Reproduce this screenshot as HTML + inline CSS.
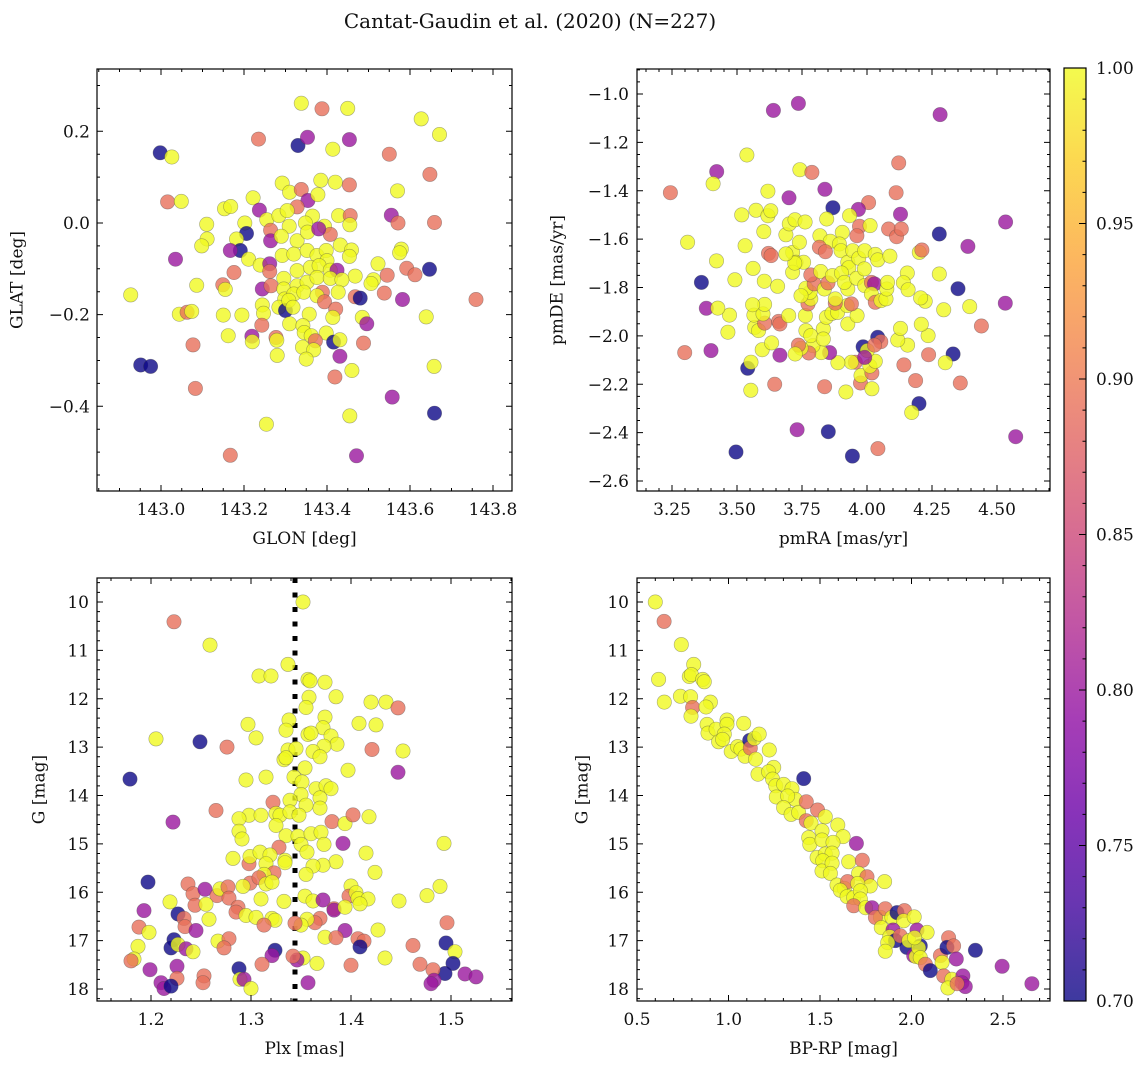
<!DOCTYPE html>
<html><head><meta charset="utf-8"><style>
html,body{margin:0;padding:0;background:#fff;}
svg{display:block;font-family:"DejaVu Serif","Liberation Serif",serif;}
</style></head><body>
<svg id="fig" width="1148" height="1068" viewBox="0 0 1148 1068" xmlns="http://www.w3.org/2000/svg">
<text x="530" y="28" text-anchor="middle" font-size="20" fill="#111">Cantat-Gaudin et al. (2020) (N=227)</text>
<defs><linearGradient id="cbgrad" x1="0" y1="1" x2="0" y2="0"></linearGradient></defs>
<g id="layer"></g>
</svg>
<script>
const probTicks = ["0.70","0.75","0.80","0.85","0.90","0.95","1.00"];
const p1Ticks = {x:["143.0","143.2","143.4","143.6","143.8"], y:["0.2","0.0","−0.2","−0.4"]};
const p2Ticks = {x:["3.25","3.50","3.75","4.00","4.25","4.50"], y:["−1.0","−1.2","−1.4","−1.6","−1.8","−2.0","−2.2","−2.4","−2.6"]};
const p3Ticks = {x:["1.2","1.3","1.4","1.5"], y:["10","11","12","13","14","15","16","17","18"]};
const p4Ticks = {x:["0.5","1.0","1.5","2.0","2.5"], y:["10","11","12","13","14","15","16","17","18"]};
const plxMedian = 1.344;
const skyStars = [
[143.338,0.261,1],[143.388,0.249,.89],[143.450,0.250,1],[143.627,0.227,1],[143.671,0.193,1],[143.235,0.183,.89],[143.330,0.169,.7],[143.353,0.187,.8],[143.454,0.182,.8],[143.414,0.161,1],
[142.998,0.153,.7],[143.026,0.144,1],[143.550,0.150,.89],[143.648,0.106,.89],[143.292,0.087,1],[143.310,0.067,1],[143.338,0.073,.89],[143.385,0.093,1],[143.420,0.089,1],[143.454,0.083,.89],
[143.570,0.070,1],[143.016,0.046,.89],[143.049,0.047,1],[143.222,0.055,1],[143.354,0.049,.8],[143.378,0.062,1],[143.153,0.031,1],[143.168,0.036,1],[143.237,0.028,.8],[143.328,0.035,.89],
[143.255,0.007,1],[143.284,0.016,1],[143.304,0.027,1],[143.365,0.015,1],[143.428,0.016,1],[143.456,0.016,.89],[143.455,-0.004,1],[143.555,0.017,.8],[143.571,0.000,.89],[143.659,0.001,.89],
[143.110,-0.003,1],[143.202,0.000,1],[143.206,-0.023,.7],[143.309,-0.007,1],[143.348,0.000,1],[143.394,-0.007,1],[143.408,-0.025,.89],[143.264,-0.016,.89],[143.111,-0.035,1],[143.098,-0.050,1],
[143.182,-0.035,1],[143.191,-0.060,.7],[143.167,-0.060,.8],[143.264,-0.039,.8],[143.290,-0.029,1],[143.328,-0.039,1],[143.353,-0.020,1],[143.380,-0.013,.8],[143.432,-0.048,1],[143.459,-0.059,1],
[143.454,-0.073,1],[143.579,-0.057,1],[143.575,-0.065,1],[143.035,-0.079,.8],[143.211,-0.079,1],[143.239,-0.092,1],[143.262,-0.089,.8],[143.292,-0.071,1],[143.320,-0.068,1],[143.352,-0.060,1],
[143.376,-0.071,1],[143.398,-0.060,1],[143.400,-0.082,1],[143.523,-0.089,1],[143.592,-0.099,.89],[143.612,-0.113,.89],[143.647,-0.101,.7],[143.176,-0.108,.89],[143.262,-0.106,.89],[143.296,-0.121,1],
[143.328,-0.104,1],[143.360,-0.097,1],[143.381,-0.093,1],[143.408,-0.103,1],[143.424,-0.103,.8],[143.468,-0.116,1],[143.545,-0.114,.89],[143.512,-0.124,1],[143.506,-0.132,1],[143.086,-0.136,1],
[143.149,-0.135,.89],[143.155,-0.145,1],[143.244,-0.144,.8],[143.265,-0.137,.89],[143.296,-0.144,1],[143.328,-0.137,1],[143.352,-0.129,1],[143.376,-0.119,1],[143.408,-0.121,1],[143.436,-0.124,1],
[142.927,-0.157,1],[143.298,-0.166,1],[143.320,-0.155,1],[143.344,-0.151,1],[143.389,-0.151,.89],[143.376,-0.159,1],[143.427,-0.151,1],[143.468,-0.161,.89],[143.480,-0.164,.7],[143.538,-0.153,.89],
[143.582,-0.167,.8],[143.759,-0.167,.89],[143.044,-0.199,1],[143.063,-0.195,.89],[143.074,-0.193,1],[143.150,-0.201,1],[143.195,-0.201,1],[143.244,-0.179,1],[143.247,-0.197,1],[143.284,-0.184,1],
[143.300,-0.191,.7],[143.308,-0.169,1],[143.318,-0.184,1],[143.357,-0.199,1],[143.394,-0.172,.89],[143.421,-0.188,.89],[143.414,-0.206,1],[143.639,-0.205,1],[143.485,-0.206,1],[143.496,-0.220,.8],
[143.243,-0.223,.89],[143.310,-0.220,1],[143.342,-0.224,1],[143.345,-0.239,1],[143.362,-0.246,1],[143.398,-0.240,1],[143.162,-0.246,1],[143.219,-0.247,.8],[143.220,-0.259,1],[143.277,-0.250,.89],
[143.279,-0.256,1],[143.372,-0.257,.89],[143.416,-0.260,.7],[143.431,-0.255,1],[143.488,-0.262,.89],[143.077,-0.266,.89],[143.341,-0.271,1],[143.368,-0.277,1],[143.280,-0.289,1],[143.350,-0.297,1],
[143.431,-0.291,.8],[142.951,-0.310,.7],[142.975,-0.313,.7],[143.460,-0.322,1],[143.658,-0.313,1],[143.419,-0.336,.89],[143.083,-0.361,.89],[143.557,-0.380,.8],[143.455,-0.421,1],[143.659,-0.415,.7],
[143.254,-0.439,1],[143.167,-0.507,.89],[143.471,-0.508,.8]
];
const pmStars = [
[3.640,-1.068,.8],[3.736,-1.039,.8],[4.281,-1.085,.8],[3.538,-1.252,1],[3.422,-1.321,.8],[3.408,-1.371,1],[3.244,-1.408,.89],[3.742,-1.313,1],[3.788,-1.324,.89],[4.122,-1.285,.89],
[3.619,-1.402,1],[3.700,-1.429,.8],[3.838,-1.394,.8],[4.112,-1.408,.89],[4.006,-1.449,.89],[3.869,-1.470,.7],[3.967,-1.477,.8],[4.129,-1.497,.8],[4.533,-1.529,.8],[4.278,-1.579,.7],
[4.388,-1.630,.8],[3.310,-1.613,1],[3.518,-1.500,1],[3.573,-1.481,1],[3.619,-1.503,1],[3.630,-1.483,1],[3.603,-1.569,1],[3.531,-1.627,1],[3.421,-1.690,1],[3.688,-1.582,1],
[3.701,-1.537,1],[3.723,-1.520,1],[3.762,-1.529,1],[3.845,-1.517,1],[3.819,-1.586,1],[3.859,-1.609,1],[3.905,-1.572,1],[3.933,-1.503,1],[3.971,-1.547,.89],[3.961,-1.586,.89],
[4.012,-1.544,1],[4.083,-1.558,.89],[4.114,-1.590,.89],[4.132,-1.558,.89],[3.621,-1.659,.89],[3.631,-1.668,.89],[3.714,-1.655,1],[3.740,-1.613,1],[3.727,-1.696,1],[3.756,-1.696,1],
[3.817,-1.634,.89],[3.840,-1.652,.89],[3.894,-1.620,1],[3.900,-1.648,1],[3.926,-1.696,1],[3.930,-1.718,1],[3.945,-1.648,1],[3.968,-1.679,1],[3.991,-1.648,1],[4.032,-1.663,1],
[4.041,-1.686,1],[4.088,-1.670,1],[4.201,-1.655,1],[4.211,-1.645,.89],[4.155,-1.740,1],[4.140,-1.780,1],[4.158,-1.809,1],[4.278,-1.744,1],[4.350,-1.805,.7],[4.532,-1.865,.8],
[4.395,-1.879,1],[4.295,-1.892,1],[4.224,-1.857,1],[4.206,-1.843,1],[4.440,-1.959,.89],[4.235,-1.999,1],[4.209,-1.952,1],[4.156,-2.038,1],[4.118,-2.017,1],[4.129,-1.969,1],
[4.331,-2.075,.7],[4.237,-2.078,.89],[4.301,-2.111,1],[4.142,-2.120,.89],[4.187,-2.185,.89],[4.359,-2.195,.89],[4.200,-2.280,.7],[4.172,-2.317,1],[4.572,-2.417,.8],[4.042,-2.466,.89],
[3.944,-2.497,.7],[3.851,-2.396,.7],[3.731,-2.388,.8],[3.496,-2.480,.7],[3.553,-2.225,1],[3.645,-2.200,.89],[3.837,-2.210,.89],[3.919,-2.232,1],[3.975,-2.195,.89],[3.977,-2.164,1],
[4.019,-2.219,1],[4.019,-2.153,.89],[4.011,-2.125,1],[4.032,-2.105,1],[3.955,-2.109,.89],[3.940,-2.109,1],[3.888,-2.111,1],[3.985,-2.045,.7],[4.001,-2.061,1],[3.991,-2.089,.8],
[4.041,-2.006,.7],[4.053,-2.024,.89],[4.029,-2.038,.89],[3.856,-2.069,.8],[3.824,-2.069,1],[3.792,-2.040,1],[3.776,-2.071,.89],[3.746,-2.051,1],[3.736,-2.038,.89],[3.724,-2.075,1],
[3.665,-2.080,.8],[3.541,-2.134,.7],[3.554,-2.109,1],[3.597,-2.057,1],[3.633,-2.029,1],[3.400,-2.061,.8],[3.299,-2.069,.89],[3.465,-1.985,1],[3.568,-1.965,1],[3.583,-1.978,1],
[3.606,-1.947,.89],[3.660,-1.940,.89],[3.665,-1.951,.89],[3.565,-1.914,1],[3.600,-1.909,1],[3.471,-1.914,1],[3.382,-1.886,.8],[3.426,-1.885,1],[3.363,-1.779,.7],[3.492,-1.768,1],
[3.562,-1.721,1],[3.605,-1.774,1],[3.656,-1.795,1],[3.606,-1.870,1],[3.560,-1.871,1],[3.699,-1.916,1],[3.763,-1.916,1],[3.765,-1.978,1],[3.784,-1.999,1],[3.832,-1.971,1],
[3.832,-2.013,1],[3.844,-1.923,1],[3.865,-1.907,1],[3.887,-1.903,1],[3.926,-1.951,1],[3.962,-1.916,1],[3.924,-1.875,1],[3.878,-1.865,.89],[3.940,-1.868,.89],[3.773,-1.868,.89],
[3.784,-1.847,1],[3.781,-1.820,1],[3.765,-1.803,1],[3.746,-1.834,1],[3.797,-1.785,.89],[3.784,-1.748,.89],[3.822,-1.734,1],[3.836,-1.806,1],[3.850,-1.781,.89],[3.867,-1.751,1],
[3.902,-1.740,1],[3.878,-1.847,1],[3.926,-1.806,1],[3.913,-1.779,1],[3.960,-1.762,1],[3.990,-1.723,1],[3.991,-1.792,1],[4.017,-1.779,.89],[4.029,-1.785,.8],[4.017,-1.827,1],
[4.032,-1.861,.89],[4.054,-1.854,1],[4.073,-1.847,1],[4.076,-1.806,1],[4.079,-1.779,1],[3.714,-1.737,1],[3.722,-1.699,1],[3.688,-1.661,1]
];
const plxStars = [
[1.352,10.00,1],[1.223,10.41,.89],[1.259,10.89,1],[1.337,11.29,1],[1.308,11.53,1],[1.320,11.53,1],[1.357,11.60,1],[1.359,11.63,1],[1.374,11.66,1],[1.358,11.97,1],
[1.385,11.96,1],[1.355,12.18,1],[1.420,12.07,1],[1.435,12.07,1],[1.447,12.19,.89],[1.374,12.38,1],[1.338,12.44,1],[1.297,12.53,1],[1.408,12.51,1],[1.425,12.54,1],
[1.372,12.60,1],[1.335,12.65,1],[1.205,12.83,1],[1.249,12.89,.7],[1.305,12.81,1],[1.357,12.74,1],[1.360,12.71,1],[1.380,12.77,1],[1.386,12.94,1],[1.373,12.98,1],
[1.276,13.00,.89],[1.337,13.06,1],[1.345,13.03,1],[1.362,13.09,1],[1.369,13.20,1],[1.421,13.05,.89],[1.452,13.08,1],[1.333,13.26,1],[1.335,13.22,1],[1.354,13.43,1],
[1.397,13.48,1],[1.447,13.52,.8],[1.179,13.66,.7],[1.295,13.68,1],[1.315,13.62,1],[1.343,13.62,1],[1.351,13.72,1],[1.365,13.86,1],[1.375,13.80,1],[1.380,13.86,1],
[1.350,13.98,1],[1.369,14.05,1],[1.369,14.26,1],[1.355,14.20,1],[1.339,14.10,1],[1.322,14.14,.89],[1.265,14.31,.89],[1.298,14.41,1],[1.310,14.41,1],[1.325,14.37,1],
[1.329,14.41,1],[1.339,14.34,1],[1.348,14.41,1],[1.288,14.48,1],[1.381,14.54,.89],[1.394,14.58,1],[1.402,14.40,.89],[1.418,14.44,1],[1.222,14.55,.8],[1.325,14.62,1],
[1.288,14.74,1],[1.291,14.90,1],[1.335,14.83,1],[1.347,14.84,1],[1.360,14.79,1],[1.370,14.76,1],[1.392,14.99,.8],[1.373,15.01,1],[1.350,15.01,1],[1.356,15.17,1],
[1.328,15.07,.89],[1.493,14.99,1],[1.415,15.19,1],[1.282,15.30,1],[1.298,15.41,.89],[1.299,15.26,1],[1.309,15.17,1],[1.319,15.23,1],[1.315,15.41,1],[1.334,15.34,1],
[1.334,15.39,1],[1.385,15.37,1],[1.372,15.44,1],[1.362,15.46,1],[1.424,15.59,1],[1.355,15.63,1],[1.323,15.60,.89],[1.313,15.63,1],[1.299,15.81,.89],[1.308,15.70,.89],
[1.315,15.83,1],[1.321,15.79,1],[1.292,15.88,1],[1.197,15.79,.7],[1.237,15.83,.89],[1.242,16.03,.89],[1.254,15.94,.8],[1.266,16.07,.89],[1.269,15.93,1],[1.277,15.89,.89],
[1.278,16.12,.89],[1.489,15.88,1],[1.476,16.07,1],[1.448,16.18,1],[1.400,15.87,1],[1.398,16.08,.89],[1.405,16.01,1],[1.407,16.13,1],[1.417,16.14,1],[1.409,16.24,1],
[1.354,16.08,1],[1.362,16.18,1],[1.372,16.16,.8],[1.310,16.14,1],[1.333,16.19,1],[1.219,16.20,1],[1.193,16.38,.8],[1.244,16.27,.89],[1.255,16.25,1],[1.287,16.31,.89],
[1.285,16.41,.89],[1.295,16.48,1],[1.305,16.52,1],[1.321,16.54,1],[1.324,16.58,1],[1.313,16.68,.89],[1.383,16.34,.89],[1.383,16.37,.8],[1.394,16.31,1],[1.369,16.54,.89],
[1.364,16.63,.89],[1.356,16.56,1],[1.350,16.68,1],[1.344,16.64,.89],[1.496,16.63,.89],[1.227,16.45,.7],[1.233,16.54,.89],[1.234,16.71,.89],[1.258,16.56,1],[1.188,16.72,.89],
[1.198,16.83,1],[1.245,16.79,.8],[1.427,16.78,1],[1.394,16.79,.8],[1.374,16.93,1],[1.385,16.94,.89],[1.407,16.96,.89],[1.413,17.01,.89],[1.409,17.13,.7],[1.267,17.01,1],
[1.278,16.96,.89],[1.273,17.15,.89],[1.223,16.98,.7],[1.220,17.15,.7],[1.227,17.08,1],[1.235,17.17,.8],[1.242,17.23,1],[1.187,17.12,1],[1.183,17.38,1],[1.180,17.42,.89],
[1.462,17.10,.89],[1.495,17.05,.7],[1.504,17.23,1],[1.502,17.47,.7],[1.494,17.68,.7],[1.482,17.60,.89],[1.469,17.49,.89],[1.483,17.82,.8],[1.480,17.89,.8],[1.514,17.69,.8],
[1.525,17.75,.8],[1.434,17.36,1],[1.400,17.51,.89],[1.366,17.47,1],[1.352,17.36,1],[1.346,17.40,.8],[1.342,17.32,.89],[1.357,17.87,.8],[1.324,17.20,.7],[1.321,17.31,.8],
[1.311,17.49,.89],[1.288,17.58,.7],[1.289,17.80,1],[1.293,17.80,.8],[1.300,17.99,1],[1.253,17.73,.89],[1.252,17.87,.89],[1.226,17.53,.8],[1.226,17.78,.89],[1.199,17.60,.8],
[1.210,17.87,.8],[1.213,17.99,.8],[1.220,17.94,.7]
];
const cmdStars = [
[0.600,10.00,1],[0.648,10.40,.89],[0.742,10.88,1],[0.810,11.29,1],[0.618,11.60,1],[0.786,11.54,1],[0.797,11.50,1],[0.859,11.60,1],[0.868,11.65,1],[0.737,11.95,1],
[0.793,11.96,1],[0.649,12.07,1],[0.901,12.07,1],[0.804,12.18,.89],[0.877,12.17,1],[0.795,12.36,1],[0.883,12.53,1],[0.888,12.71,1],[0.932,12.63,1],[0.946,12.89,1],
[0.992,12.44,1],[0.992,12.53,1],[0.977,12.73,1],[0.968,12.84,1],[1.083,12.51,1],[1.015,13.09,1],[1.050,12.99,1],[1.068,13.04,1],[1.090,13.19,1],[1.116,12.86,.7],
[1.119,13.02,.89],[1.148,13.25,1],[1.141,12.82,1],[1.168,12.73,1],[1.223,13.06,1],[1.161,13.56,1],[1.247,13.42,1],[1.219,13.51,1],[1.241,13.66,1],[1.258,13.80,1],
[1.301,13.77,1],[1.261,14.03,1],[1.411,13.65,.7],[1.347,13.86,1],[1.365,14.08,1],[1.323,14.01,1],[1.301,14.25,1],[1.342,14.39,1],[1.383,14.35,1],[1.425,14.13,.89],
[1.487,14.30,.89],[1.425,14.52,.89],[1.451,14.57,1],[1.529,14.44,1],[1.597,14.61,1],[1.626,14.85,1],[1.511,14.73,1],[1.438,14.87,1],[1.444,15.01,1],[1.511,14.92,1],
[1.571,14.97,1],[1.699,14.99,.8],[1.484,15.28,1],[1.529,15.21,1],[1.566,15.19,1],[1.515,15.35,1],[1.511,15.56,1],[1.566,15.40,1],[1.557,15.61,1],[1.657,15.37,1],
[1.731,15.34,.89],[1.711,15.61,1],[1.757,15.68,.89],[1.775,15.87,1],[1.853,15.78,1],[1.593,15.85,1],[1.633,15.92,1],[1.651,15.78,.89],[1.706,15.82,1],[1.611,15.96,1],
[1.648,16.09,1],[1.684,16.11,1],[1.721,15.97,1],[1.721,16.14,1],[1.684,16.28,.89],[1.749,16.32,1],[1.784,16.32,.8],[1.830,16.52,1],[1.803,16.52,.89],[1.857,16.34,.89],
[1.835,16.73,1],[1.893,16.52,1],[1.921,16.42,.7],[1.961,16.38,.89],[1.957,16.59,1],[2.015,16.51,1],[1.899,16.78,.8],[1.881,16.92,1],[1.912,17.00,.7],[1.870,17.04,1],
[1.857,17.22,1],[1.939,16.90,.89],[1.975,17.14,.7],[1.986,17.00,1],[2.048,17.11,.7],[2.030,16.78,.8],[2.085,16.83,1],[2.012,17.31,.8],[2.025,17.33,1],[2.039,17.15,1],
[2.048,17.35,1],[2.076,17.49,.89],[2.103,17.62,.7],[2.158,17.31,.89],[2.167,17.45,1],[2.203,16.94,.89],[2.194,17.14,.7],[2.230,17.11,.89],[2.245,17.38,.8],[2.349,17.20,.7],
[2.176,17.73,.89],[2.221,17.80,1],[2.199,17.98,1],[2.281,17.73,.8],[2.276,17.87,.8],[2.294,17.95,.8],[2.249,17.89,.89],[2.495,17.53,.8],[2.658,17.89,.8],[2.017,16.94,1]
];

const NS = "http://www.w3.org/2000/svg";
const layer = document.getElementById('layer');
function mk(tag, attrs, parent){ const e=document.createElementNS(NS,tag); for(const k in attrs) e.setAttribute(k,attrs[k]); (parent||layer).appendChild(e); return e; }
const plasmaStops = ["#0d0887","#41049d","#6a00a8","#8f0da4","#b12a90","#cc4778","#e16462","#f2844b","#fca636","#fcce25","#f0f921"];
function hx(c){return [parseInt(c.substr(1,2),16),parseInt(c.substr(3,2),16),parseInt(c.substr(5,2),16)];}
function plasma(t){ t=Math.max(0,Math.min(1,t)); const f=t*10, i=Math.min(9,Math.floor(f)), r=f-i; const a=hx(plasmaStops[i]), b=hx(plasmaStops[i+1]); return 'rgb('+a.map((v,k)=>Math.round(v+(b[k]-v)*r)).join(',')+')'; }
function probColor(p){ return plasma((p-0.70)/0.30); }
function lin(d0,d1,r0,r1){ const f=v=>r0+(v-d0)*(r1-r0)/(d1-d0); f.inv=px=>d0+(px-r0)*(d1-d0)/(r1-r0); return f; }

const FS = 17;
const panels = [
 {name:'sky', box:[97,69,512,491], sx:lin(143.0,143.8,161,493), sy:lin(0.2,-0.4,131.3,406.3), data:skyStars, xt:p1Ticks.x, yt:p1Ticks.y, xMajor:0.2, xMinor:0.05, yMajor:0.2, yMinor:0.05, xlabel:'GLON [deg]', ylabel:'GLAT [deg]', ylx:18, yTickX:90},
 {name:'proper-motion', box:[637,69,1050,491], sx:lin(3.25,4.50,672,997), sy:lin(-1.0,-2.6,94,481), data:pmStars, xt:p2Ticks.x, yt:p2Ticks.y, xMajor:0.25, xMinor:0.05, yMajor:0.2, yMinor:0.05, xlabel:'pmRA [mas/yr]', ylabel:'pmDE [mas/yr]', ylx:558, yTickX:629},
 {name:'parallax', box:[97,578,512,1001], sx:lin(1.2,1.5,151,451), sy:lin(10,18,602,989), data:plxStars, xt:p3Ticks.x, yt:p3Ticks.y, xMajor:0.1, xMinor:0.02, yMajor:1, yMinor:0.2, xlabel:'Plx [mas]', ylabel:'G [mag]', ylx:40, yTickX:89},
 {name:'cmd', box:[637,578,1050,1001], sx:lin(0.5,2.5,637,1003), sy:lin(10,18,602,989), data:cmdStars, xt:p4Ticks.x, yt:p4Ticks.y, xMajor:0.5, xMinor:0.1, yMajor:1, yMinor:0.2, xlabel:'BP-RP [mag]', ylabel:'G [mag]', ylx:583, yTickX:629}
];
function parseTick(s){ return parseFloat(s.replace('−','-')); }
function rangeTicks(a,b,step){ const lo=Math.min(a,b), hi=Math.max(a,b), out=[]; for(let k=Math.ceil(lo/step-1e-6); k<=Math.floor(hi/step+1e-6); k++) out.push(+(k*step).toFixed(6)); return out; }

panels.forEach(P=>{
  const [x0,y0,x1,y1]=P.box;
  const g = mk('g',{});
  
  
  const cid='clip-'+P.name;
  const cp=mk('clipPath',{id:cid},g); mk('rect',{x:x0,y:y0,width:x1-x0,height:y1-y0},cp);
  const pts=mk('g',{'clip-path':'url(#'+cid+')'},g);
  
  
  if(P.name==='parallax'){
    const X=P.sx(plxMedian);
    const ln=mk('line',{x1:X,y1:y0,x2:X,y2:y1,stroke:'#000','stroke-width':5,'stroke-dasharray':'5 9.5'},pts);
    
    
  }
  P.data.forEach(d=>{
    const c=mk('circle',{cx:P.sx(d[0]).toFixed(1),cy:P.sy(d[1]).toFixed(1),r:7.2,fill:probColor(d[2]),'fill-opacity':0.8,stroke:'#444','stroke-opacity':0.45,'stroke-width':0.6},pts);
    
    
  });
  const fr=mk('rect',{x:x0,y:y0,width:x1-x0,height:y1-y0,fill:'none',stroke:'#000','stroke-width':1.2},g);
  
  
  const xd=[P.sx.inv(x0),P.sx.inv(x1)], yd=[P.sy.inv(y0),P.sy.inv(y1)];
  let path='';
  rangeTicks(xd[0],xd[1],P.xMinor).forEach(v=>{ const X=P.sx(v); const major=Math.abs(v/P.xMajor-Math.round(v/P.xMajor))<1e-4; const L=major?6:3; path+=`M${X},${y1}v${-L}M${X},${y0}v${L}`; });
  rangeTicks(yd[0],yd[1],P.yMinor).forEach(v=>{ const Y=P.sy(v); const major=Math.abs(v/P.yMajor-Math.round(v/P.yMajor))<1e-4; const L=major?6:3; path+=`M${x0},${Y}h${L}M${x1},${Y}h${-L}`; });
  const tk=mk('path',{d:path,stroke:'#000','stroke-width':1,fill:'none'},g);
  
  
  P.xt.forEach(s=>{ const t=mk('text',{x:P.sx(parseTick(s)),y:y1+24,'text-anchor':'middle','font-size':FS,fill:'#111'},g); t.textContent=s;
    
     });
  P.yt.forEach(s=>{ const t=mk('text',{x:P.yTickX,y:P.sy(parseTick(s))+6,'text-anchor':'end','font-size':FS,fill:'#111'},g); t.textContent=s;
    
     });
  const xl=mk('text',{x:(x0+x1)/2,y:y1+53,'text-anchor':'middle','font-size':FS,fill:'#111'},g); xl.textContent=P.xlabel;
  
  
  const yc=(y0+y1)/2;
  const yl=mk('text',{x:P.ylx,y:yc,'text-anchor':'middle','font-size':FS,fill:'#111',transform:`rotate(-90 ${P.ylx} ${yc})`,'dominant-baseline':'middle'},g); yl.textContent=P.ylabel;
  
  
});

const grad=document.getElementById('cbgrad');
for(let i=0;i<=20;i++){ mk('stop',{offset:(i/20),'stop-color':plasma(i/20),'stop-opacity':0.8},grad); }
const cb=mk('g',{});


const cbx0=1064,cbx1=1086,cby0=68,cby1=1001;
const cs=lin(0.70,1.00,cby1,cby0);
mk('rect',{x:cbx0,y:cby0,width:cbx1-cbx0,height:cby1-cby0,fill:'url(#cbgrad)',stroke:'#000','stroke-width':1.2},cb);
let cpath='';
rangeTicks(0.70,1.00,0.01).forEach(v=>{ const Y=cs(v); const major=Math.abs(v*20-Math.round(v*20))<1e-4; cpath+=`M${cbx1},${Y}h${major?-7:-3.5}`; });
mk('path',{d:cpath,stroke:'#000','stroke-width':1},cb);
probTicks.forEach(s=>{ const t=mk('text',{x:1096,y:cs(parseFloat(s))+6,'font-size':FS,fill:'#111'},cb); t.textContent=s;
  
   });
</script>
</body></html>
